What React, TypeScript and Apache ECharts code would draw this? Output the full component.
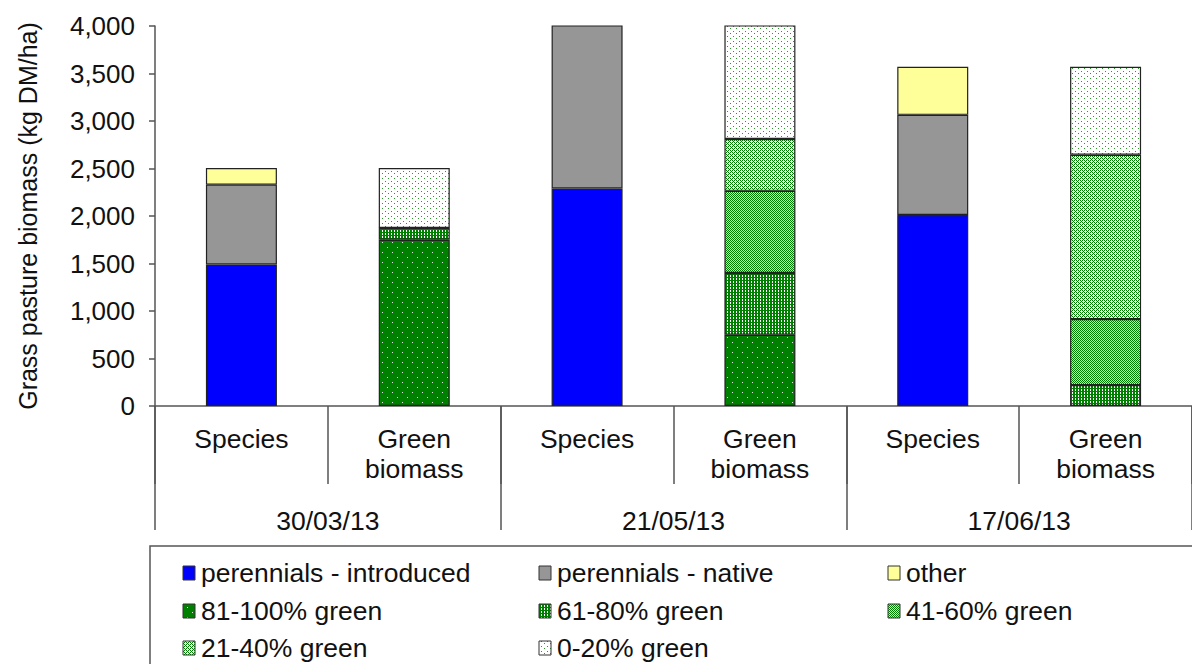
import React, { useEffect, useRef } from "react";
import * as echarts from "echarts";

const categories = ["Species", "Green\nbiomass", "Species", "Green\nbiomass", "Species", "Green\nbiomass"];
const dates = ["30/03/13", "21/05/13", "17/06/13"];
const yTicks = { min: 0, max: 4000, interval: 500 };

const seriesNames = [
  "perennials - introduced",
  "perennials - native",
  "other",
  "81-100% green",
  "61-80% green",
  "41-60% green",
  "21-40% green",
  "0-20% green",
];

const introduced = [1490, null, 2290, null, 2010, null];
const native = [840, null, 1730, null, 1055, null];
const other = [175, null, null, null, 505, null];
const g81to100 = [null, 1750, null, 750, null, null];
const g61to80 = [null, 125, null, 650, null, 220];
const g41to60 = [null, null, null, 865, null, 695];
const g21to40 = [null, null, null, 545, null, 1730];
const g0to20 = [null, 630, null, 1215, null, 925];

const seriesData = [introduced, native, other, g81to100, g61to80, g41to60, g21to40, g0to20];

function makeTile(w: number, h: number, rep: number, fn: (x: number, y: number) => string) {
  const W = w * rep;
  const H = h * rep;
  const c = document.createElement("canvas");
  c.width = W;
  c.height = H;
  const ctx = c.getContext("2d")!;
  for (let y = 0; y < H; y++) {
    for (let x = 0; x < W; x++) {
      ctx.fillStyle = fn(x % w, y % h);
      ctx.fillRect(x, y, 1, 1);
    }
  }
  return { image: c.toDataURL(), repeat: "repeat", imageWidth: W, imageHeight: H } as any;
}

export default function App() {
  const ref = useRef<HTMLDivElement>(null);
  useEffect(() => {
    if (!ref.current) return;
    const chart = echarts.init(ref.current, null, { renderer: "svg" });
    const G = "#008000";
    const W = "#ffffff";
    const fills: any[] = [
      "#0000FF",
      "#969696",
      "#FFFF99",
      makeTile(10, 10, 2, (x, y) => ((x === 2 && y === 2) || (x === 7 && y === 7) ? "#d8ecd8" : G)),
      makeTile(3, 3, 4, (x, y) => (x === 1 && y !== 1 ? W : G)),
      makeTile(2, 2, 6, (x, y) => ((x + y) % 2 === 0 ? G : "#d0ead0")),
      makeTile(4, 4, 3, (x, y) => ((x % 2 === 0 && y % 2 === 0) || (x === 1 && y === 1) || (x === 3 && y === 3) ? G : W)),
      makeTile(6, 5, 2, (x, y) => ((x === 1 && y === 1) || (x === 4 && y === 3) ? "#2f962f" : W)),
    ];
    const font = "'Liberation Sans', Arial, sans-serif";
    const legendX = [183, 539, 888];
    const legendY = [573, 611, 648];
    const legendEls: any[] = [
      {
        type: "rect",
        shape: { x: 150, y: 546, width: 1100, height: 140 },
        style: { fill: "#fff", stroke: "#555", lineWidth: 1.5 },
        z: 0,
      },
    ];
    seriesNames.forEach((n, i) => {
      const x = legendX[i % 3];
      const y = legendY[Math.floor(i / 3)];
      legendEls.push({
        type: "rect",
        shape: { x: x, y: y - 7, width: 12, height: 14 },
        style: { fill: fills[i], stroke: "#333", lineWidth: 1 },
        z: 1,
      });
      legendEls.push({
        type: "text",
        x: x + 18,
        y: y,
        style: { text: n, font: `26.5px ${font}`, fill: "#111", verticalAlign: "middle", textAlign: "left" },
        z: 1,
      });
    });

    chart.setOption({
      animation: false,
      textStyle: { fontFamily: font },
      grid: { left: 155, top: 26, width: 1041, height: 380, containLabel: false },
      xAxis: [
        {
          type: "category",
          data: categories,
          position: "bottom",
          axisLine: { show: true, lineStyle: { color: "#555", width: 1.5 } },
          axisTick: { show: true, length: 78, alignWithLabel: false, lineStyle: { color: "#555", width: 1.5 } },
          axisLabel: { fontSize: 26.5, color: "#111", margin: 18, lineHeight: 30, interval: 0, verticalAlign: "top" },
        },
        {
          type: "category",
          data: dates,
          position: "bottom",
          axisLine: { show: false },
          axisTick: { show: true, length: 124, lineStyle: { color: "#555", width: 1.5 } },
          axisLabel: { fontSize: 26.5, color: "#111", margin: 101, interval: 0, verticalAlign: "top" },
        },
      ],
      yAxis: {
        type: "value",
        min: yTicks.min,
        max: yTicks.max,
        interval: yTicks.interval,
        splitLine: { show: false },
        axisLine: { show: true, lineStyle: { color: "#555", width: 1.5 } },
        axisTick: { show: true, length: 6, lineStyle: { color: "#555", width: 1.5 } },
        axisLabel: {
          fontSize: 26,
          color: "#111",
          margin: 20,
          formatter: (v: number) => v.toLocaleString("en-US"),
        },
        name: "Grass pasture biomass (kg DM/ha)",
        nameLocation: "middle",
        nameGap: 115,
        nameRotate: 90,
        nameTextStyle: { fontSize: 25, color: "#111" },
      },
      series: seriesNames.map((n, i) => ({
        name: n,
        type: "bar",
        stack: "total",
        xAxisIndex: 0,
        barWidth: 71,
        data: seriesData[i],
        itemStyle: { color: fills[i], borderColor: "#222", borderWidth: 1.2 },
      })),
      graphic: legendEls,
    });
    return () => chart.dispose();
  }, []);
  return <div ref={ref} style={{ width: 1192, height: 664, position: "absolute", left: 0, top: 0 }} />;
}
